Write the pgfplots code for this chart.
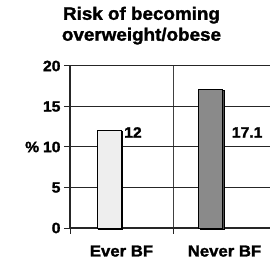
\documentclass[border=0pt]{standalone}
\usepackage{pgfplots}
\pgfplotsset{compat=1.18}
\usetikzlibrary{shadows}
\usepackage{fontspec}
\setmainfont{Liberation Sans}[FakeStretch=1.05, BoldFeatures={FakeBold=1.6}]
\definecolor{barA}{HTML}{EEEEEE}
\definecolor{barB}{HTML}{8A8A8A}
\begin{document}
\begin{tikzpicture}
\useasboundingbox (0,0) rectangle (270bp,262bp);
\begin{axis}[
  at={(70bp,34bp)}, anchor=south west,
  scale only axis, width=206bp, height=162bp,
  xmin=-0.5, xmax=1.5, ymin=0, ymax=20,
  axis x line=bottom, axis y line=left,
  axis line style={-, line width=1.3bp, black!85},
  xtick={0,1}, xticklabels={Ever BF, Never BF},
  minor xtick={-0.5,0.5,1.5}, xminorgrids,
  ytick={0,5,10,15,20}, ymajorgrids,
  grid style={black!85, line width=1bp},
  minor grid style={black!75, line width=1bp},
  tick align=outside, major tick length=6bp, minor tick length=6bp,
  tick style={black!85, line width=1bp},
  major x tick style={draw=none},
  /pgf/number format/assume math mode=true,
  ticklabel style={font=\bfseries\fontsize{15}{15}\selectfont},
  xticklabel style={font=\bfseries\fontsize{16}{16}\selectfont, yshift=-8bp},
  ylabel={\%},
  ylabel style={rotate=-90, at={(ticklabel cs:0.5)}, anchor=east, xshift=3bp, font=\bfseries\fontsize{15}{15}\selectfont},
  title={Risk of becoming\\overweight/obese},
  title style={align=center, at={(rel axis cs:0.347,1)}, anchor=south, yshift=12bp, font=\bfseries\fontsize{18}{21}\selectfont},
  clip=false,
]
\addplot[ybar, bar width=24bp, fill=barA, draw=black, line width=1bp,
  drop shadow={shadow xshift=1.5bp, shadow yshift=-1bp, fill=black!70, opacity=1}] coordinates {(-0.12,12)};
\addplot[ybar, bar width=24bp, fill=barB, draw=black, line width=1bp,
  drop shadow={shadow xshift=1.5bp, shadow yshift=-1bp, fill=black!70, opacity=1}] coordinates {(0.865,17.1)};
\addplot[only marks, mark=none, point meta=explicit symbolic,
  nodes near coords, nodes near coords align={anchor=west},
  every node near coord/.append style={anchor=west, inner sep=1bp, font=\bfseries\fontsize{15}{15}\selectfont}]
  coordinates {(0.015,11.8)[12] (1.06,11.8)[17.1]};
\end{axis}
\end{tikzpicture}
\end{document}
